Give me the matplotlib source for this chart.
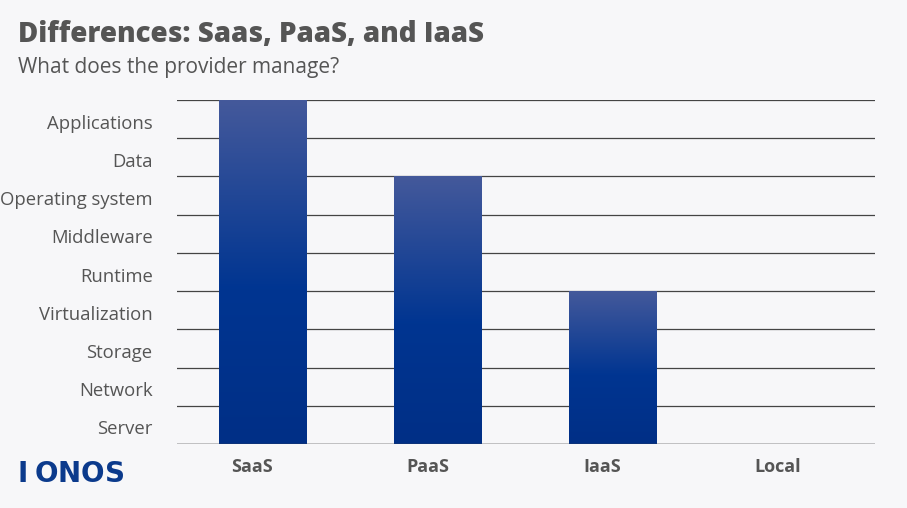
import numpy as np
import matplotlib.pyplot as plt
from matplotlib.colors import LinearSegmentedColormap

categories = ["SaaS", "PaaS", "IaaS", "Local"]
managed_layers = [9, 7, 4, 0]
layers = ["Server", "Network", "Storage", "Virtualization", "Runtime",
          "Middleware", "Operating system", "Data", "Applications"]

BG = "#f7f7f9"
TXT = "#555555"

fig = plt.figure(figsize=(9.07, 5.08), dpi=100, facecolor=BG)
ax = fig.add_axes([177 / 907, 1 - 444 / 508, 698 / 907, 344 / 508], facecolor=BG)

x = np.arange(len(categories))
bars = ax.bar(x, managed_layers, width=0.5, color="#003591", zorder=3)

# vertical gradient: lighter top, deep blue middle, darker bottom
cmap = LinearSegmentedColormap.from_list(
    "bar", [(0, "#002f86"), (0.45, "#003591"), (1, "#44599b")])
grad = np.linspace(0, 1, 256).reshape(-1, 1)
for b, h in zip(bars, managed_layers):
    if h <= 0:
        continue
    x0 = b.get_x()
    im = ax.imshow(grad, cmap=cmap, aspect="auto", origin="lower",
                   extent=(x0, x0 + b.get_width(), 0, h), zorder=4)
    im.set_clip_path(b)

ax.set_xlim(-0.491, 3.497)
ax.set_ylim(0, 9)
ax.set_yticks(range(10))
ax.yaxis.grid(True, color="#444444", linewidth=0.9, zorder=1)
ax.tick_params(axis="y", length=0, labelleft=False)
for s in ax.spines.values():
    s.set_visible(False)
ax.axhline(0, color="#444444", linewidth=1, zorder=5)

for i, name in enumerate(layers):
    ax.text(-0.63, i + 0.38, name, ha="right", va="center", fontsize=13.3,
            color=TXT, family="Open Sans")

ax.set_xticks(x - 0.06)
ax.set_xticklabels(categories, fontsize=13, fontweight="bold", color=TXT,
                   family="Open Sans")
ax.tick_params(axis="x", length=0, pad=10)

fig.text(18 / 907, 1 - 34 / 508, "Differences: Saas, PaaS, and IaaS", fontsize=20,
         fontweight="heavy", color=TXT, family="Open Sans", va="center")
fig.text(18 / 907, 1 - 67 / 508, "What does the provider manage?", fontsize=15,
         color=TXT, family="Open Sans", va="center")
for k, ch in enumerate("IONOS"):
    fig.text((23 + k * 23) / 907, 1 - 474 / 508, ch, fontsize=20, color="#0b3a8c",
             family="DejaVu Sans", va="center", ha="center", fontweight="bold")

fig.savefig("out.png", dpi=100, facecolor=BG)
